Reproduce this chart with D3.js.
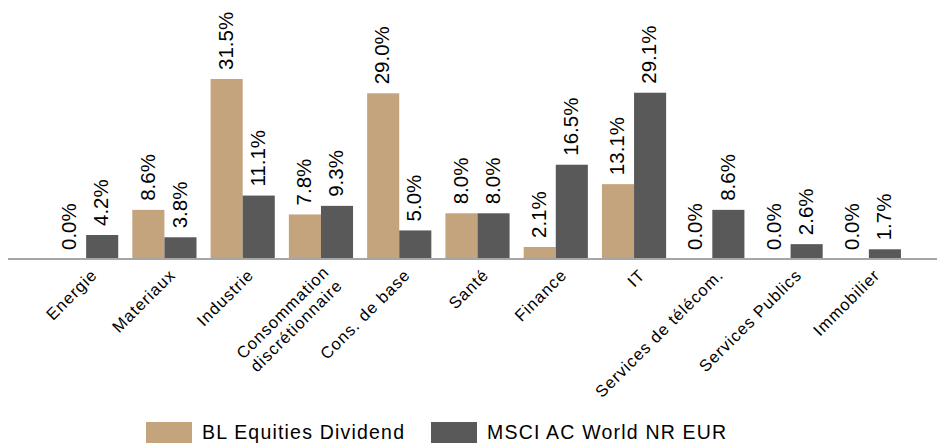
<!DOCTYPE html>
<html>
<head>
<meta charset="utf-8">
<script src="https://cdn.jsdelivr.net/npm/d3@7"></script>
<style>
  html, body { margin: 0; padding: 0; background: #fff; }
  svg { display: block; font-family: "Liberation Sans", Arial, sans-serif; }
</style>
</head>
<body>
<svg id="chart" width="937" height="443"></svg>
<script>
const categories = ["Energie", "Materiaux", "Industrie", "Consommation\ndiscrétionnaire", "Cons. de base", "Santé", "Finance", "IT", "Services de télécom.", "Services Publics", "Immobilier"];
const seriesNames = ["BL Equities Dividend", "MSCI AC World NR EUR"];
const blValues = [0.0, 8.6, 31.5, 7.8, 29.0, 8.0, 2.1, 13.1, 0.0, 0.0, 0.0];
const msciValues = [4.2, 3.8, 11.1, 9.3, 5.0, 8.0, 16.5, 29.1, 8.6, 2.6, 1.7];
const colors = ["#C4A47C", "#595959"];

const svg = d3.select("#chart");
const baseY = 259;

const x0 = d3.scaleBand().domain(categories).range([47, 908]).paddingInner(0.18).paddingOuter(0.09);
const x1 = d3.scaleBand().domain(seriesNames).range([0, x0.bandwidth()]).padding(0);
const y = d3.scaleLinear().domain([0, 35]).range([baseY, baseY - 35 * 5.714]);

const data = categories.map((c, i) => ({ cat: c, vals: [blValues[i], msciValues[i]] }));

const groups = svg.selectAll("g.cat").data(data).join("g")
  .attr("class", "cat")
  .attr("transform", d => `translate(${x0(d.cat)},0)`);

groups.selectAll("rect").data(d => d.vals.map((v, j) => ({ v, s: seriesNames[j], j })))
  .join("rect")
  .attr("x", d => x1(d.s))
  .attr("width", x1.bandwidth())
  .attr("y", d => y(d.v))
  .attr("height", d => baseY - y(d.v))
  .attr("fill", d => colors[d.j]);

groups.selectAll("text.val").data(d => d.vals.map((v, j) => ({ v, s: seriesNames[j], j })))
  .join("text")
  .attr("class", "val")
  .attr("transform", d => `translate(${x1(d.s) + x1.bandwidth() / 2},${y(d.v) - 9}) rotate(-90)`)
  .attr("dy", "0.3em")
  .attr("text-anchor", "start")
  .attr("font-size", "20.5px")
  .attr("fill", "#000")
  .text(d => d.v.toFixed(1) + "%");

// axis baseline
svg.append("line")
  .attr("x1", 8).attr("x2", 937)
  .attr("y1", baseY).attr("y2", baseY)
  .attr("stroke", "#A6A6A6").attr("stroke-width", 2);

// category labels
const catLabels = svg.selectAll("text.cat").data(categories).join("text")
  .attr("class", "cat")
  .attr("transform", d => `translate(${x0(d) + x0.bandwidth() / 2 + 8},${baseY + 13}) rotate(-45)`)
  .attr("text-anchor", "end")
  .attr("font-size", "16.5px")
  .attr("letter-spacing", "1px")
  .attr("fill", "#000");

catLabels.each(function(d) {
  const lines = d.split("\n");
  const t = d3.select(this);
  lines.forEach((ln, k) => {
    t.append("tspan")
      .attr("x", 0)
      .attr("dy", lines.length === 1 ? "0.35em" : (k === 0 ? "0.1em" : "1.15em"))
      .text(ln);
  });
});

// legend
const legendX = [146, 431];
const leg = svg.selectAll("g.leg").data(seriesNames).join("g")
  .attr("class", "leg")
  .attr("transform", (d, i) => `translate(${legendX[i]},422)`);
leg.append("rect").attr("width", 46).attr("height", 21).attr("fill", (d, i) => colors[i]);
leg.append("text")
  .attr("x", 56).attr("y", 17)
  .attr("font-size", "19.5px")
  .attr("letter-spacing", "1.2px")
  .attr("fill", "#000")
  .text(d => d);
</script>
</body>
</html>
